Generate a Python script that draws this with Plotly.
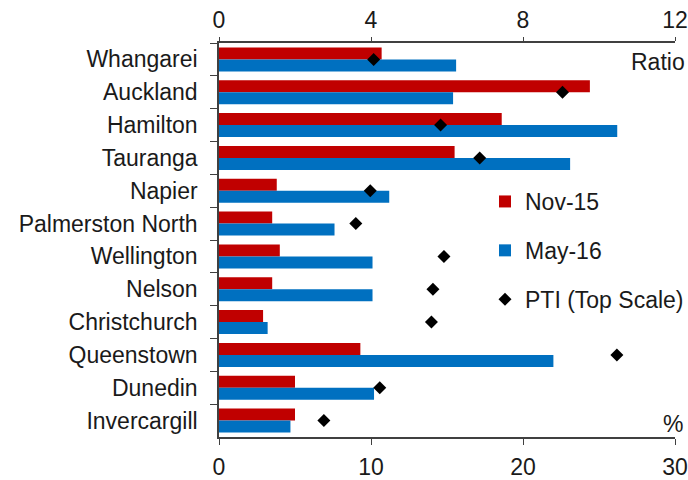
import plotly.graph_objects as go

# Regional housing data
cities = ["Whangarei", "Auckland", "Hamilton", "Tauranga", "Napier",
          "Palmerston North", "Wellington", "Nelson", "Christchurch",
          "Queenstown", "Dunedin", "Invercargill"]
nov15 = [10.7, 24.4, 18.6, 15.5, 3.8, 3.5, 4.0, 3.5, 2.9, 9.3, 5.0, 5.0]
may16 = [15.6, 15.4, 26.2, 23.1, 11.2, 7.6, 10.1, 10.1, 3.2, 22.0, 10.2, 4.7]
pti = [4.07, 9.04, 5.83, 6.86, 3.98, 3.60, 5.92, 5.63, 5.59, 10.47, 4.23, 2.76]

pct_ticks = [0, 10, 20, 30]
ratio_ticks = [0, 4, 8, 12]

RED = "#C00000"
BLUE = "#0070C0"
AXIS = "#404040"
FONT = dict(family="Liberation Sans, Arial, sans-serif", size=23, color="#1a1a1a")

L, R, T, B = 219, 13, 43, 43
PW, PH = 688 - L - R, 480 - T - B

fig = go.Figure()
fig.add_trace(go.Bar(y=cities, x=nov15, orientation="h", name="Nov-15",
                     marker=dict(color=RED, line_width=0), legendgroup="a"))
fig.add_trace(go.Bar(y=cities, x=may16, orientation="h", name="May-16",
                     marker=dict(color=BLUE, line_width=0), legendgroup="b"))
fig.add_trace(go.Scatter(y=cities, x=pti, xaxis="x2", mode="markers",
                         name="PTI (Top Scale)", legendgroup="c",
                         marker=dict(symbol="diamond", size=10, color="black")))

fig.update_layout(
    width=688, height=480,
    margin=dict(l=L, r=R, t=T, b=B, autoexpand=False),
    paper_bgcolor="white", plot_bgcolor="white",
    font=FONT,
    barmode="group", bargap=0.27, bargroupgap=0,
    xaxis=dict(range=[0, 30], tickvals=pct_ticks, showgrid=False, zeroline=False,
               showline=True, linecolor=AXIS, linewidth=1.5, automargin=False,
               ticks="outside", ticklen=6, tickcolor=AXIS, ticklabelstandoff=3),
    xaxis2=dict(range=[0, 12], tickvals=ratio_ticks, overlaying="x", side="top",
                showgrid=False, zeroline=False, showline=True, linecolor=AXIS,
                linewidth=1.5, ticks="outside", ticklen=4, tickcolor=AXIS,
                automargin=False, ticklabelstandoff=0),
    yaxis=dict(categoryorder="array", categoryarray=cities,
               range=[len(cities) - 0.5, -0.5],
               showgrid=False, zeroline=False, showline=True, linecolor=AXIS,
               linewidth=1.5, ticks="outside", ticklen=7, tickcolor=AXIS,
               tickson="boundaries", ticklabelstandoff=15, automargin=False),
    legend=dict(x=(485 - L) / PW, y=1 - (180 - T) / PH, xanchor="left",
                yanchor="top", bgcolor="rgba(0,0,0,0)", tracegroupgap=16,
                font=FONT),
    showlegend=True,
)

fig.add_annotation(text="Ratio", xref="paper", yref="paper",
                   x=(687 - L) / PW, y=1 - (62 - T) / PH,
                   xanchor="right", yanchor="middle", showarrow=False, font=FONT)
fig.add_annotation(text="%", xref="paper", yref="paper",
                   x=(685 - L) / PW, y=1 - (424 - T) / PH,
                   xanchor="right", yanchor="middle", showarrow=False, font=FONT)

fig.write_html("out.html")
